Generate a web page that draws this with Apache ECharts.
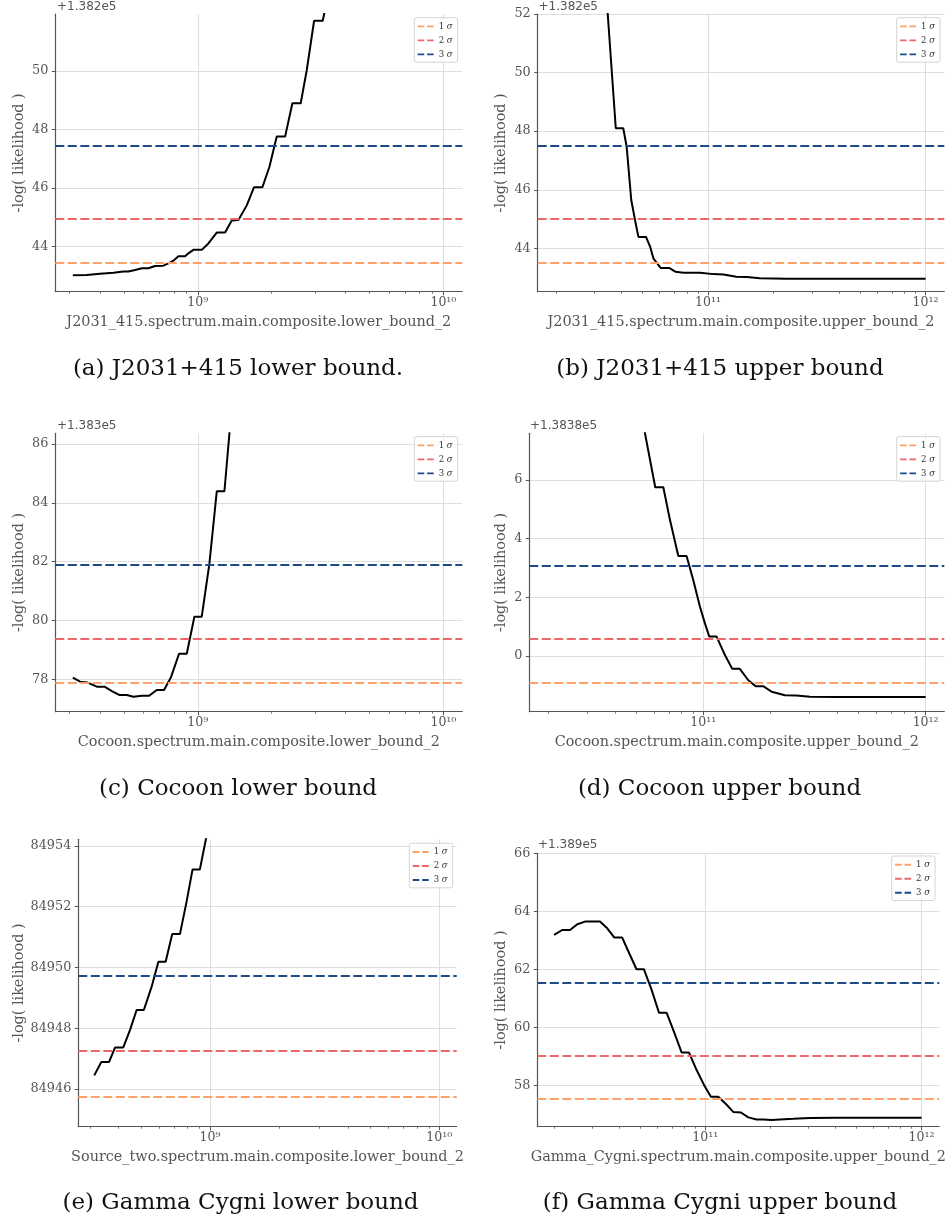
<!DOCTYPE html>
<html>
<head>
<meta charset="utf-8">
<script src="https://cdn.jsdelivr.net/npm/echarts@6/dist/echarts.min.js"></script>
<style>
html,body{margin:0;padding:0;background:#fff;}
#chart{width:948px;height:1226px;}
</style>
</head>
<body>
<div id="chart"></div>
<script>
// ---------------- DATA ----------------
// (a) J2031+415 lower bound
const aX = [3.10e8, 3.53e8, 4.00e8, 4.54e8, 4.98e8, 5.22e8, 5.56e8, 5.92e8, 6.30e8, 6.70e8, 7.24e8, 7.60e8, 7.96e8, 8.34e8, 8.88e8, 9.16e8, 9.60e8, 1.038e9, 1.105e9, 1.195e9, 1.292e9, 1.375e9, 1.464e9, 1.583e9, 1.695e9, 1.833e9, 1.958e9, 2.097e9, 2.268e9, 2.428e9, 2.625e9, 2.778e9, 2.976e9, 3.228e9, 3.46e9];
const aY = [43.02, 43.03, 43.07, 43.11, 43.15, 43.15, 43.20, 43.26, 43.26, 43.34, 43.35, 43.43, 43.52, 43.67, 43.67, 43.77, 43.89, 43.89, 44.11, 44.48, 44.48, 44.89, 44.91, 45.41, 46.03, 46.03, 46.73, 47.76, 47.76, 48.90, 48.90, 50.03, 51.72, 51.72, 52.97];
const aSigma = [43.44, 44.94, 47.44];
const aYTicks = [44, 46, 48, 50];
const aOffset = '+1.382e5';
const aXName = 'J2031_415.spectrum.main.composite.lower_bound_2';
const aCaption = '(a) J2031+415 lower bound.';

// (b) J2031+415 upper bound
const bX = [3.2e10, 3.77e10, 4.08e10, 4.23e10, 4.44e10, 4.62e10, 4.79e10, 5.19e10, 5.42e10, 5.61e10, 6.06e10, 6.63e10, 7.10e10, 7.71e10, 9.19e10, 1.06e11, 1.18e11, 1.35e11, 1.51e11, 1.73e11, 2.30e11, 1e12];
const bY = [55.6, 48.10, 48.10, 47.47, 45.65, 44.97, 44.39, 44.39, 44.06, 43.66, 43.33, 43.33, 43.20, 43.17, 43.17, 43.12, 43.11, 43.03, 43.02, 42.98, 42.96, 42.96];
const bSigma = [43.50, 45.00, 47.50];
const bYTicks = [44, 46, 48, 50, 52];
const bOffset = '+1.382e5';
const bXName = 'J2031_415.spectrum.main.composite.upper_bound_2';
const bCaption = '(b) J2031+415 upper bound';

// (c) Cocoon lower bound
const cX = [3.10e8, 3.32e8, 3.56e8, 3.88e8, 4.17e8, 4.47e8, 4.79e8, 5.14e8, 5.47e8, 5.92e8, 6.34e8, 6.81e8, 7.29e8, 7.77e8, 8.39e8, 9.02e8, 9.69e8, 1.038e9, 1.115e9, 1.195e9, 1.284e9, 1.38e9];
const cY = [78.06, 77.92, 77.89, 77.75, 77.75, 77.60, 77.47, 77.47, 77.41, 77.44, 77.44, 77.64, 77.64, 78.06, 78.87, 78.87, 80.13, 80.13, 81.92, 84.39, 84.39, 87.42];
const cSigma = [77.89, 79.37, 81.88];
const cYTicks = [78, 80, 82, 84, 86];
const cOffset = '+1.383e5';
const cXName = 'Cocoon.spectrum.main.composite.lower_bound_2';
const cCaption = '(c) Cocoon lower bound';

// (d) Cocoon upper bound
const dX = [5.07e10, 6.08e10, 6.61e10, 7.08e10, 7.72e10, 8.41e10, 9.01e10, 9.66e10, 1.017e11, 1.064e11, 1.148e11, 1.251e11, 1.35e11, 1.46e11, 1.59e11, 1.72e11, 1.86e11, 2.03e11, 2.33e11, 2.63e11, 3.02e11, 3.98e11, 1e12];
const dY = [8.89, 5.75, 5.75, 4.64, 3.41, 3.41, 2.59, 1.68, 1.11, 0.66, 0.66, 0.03, -0.44, -0.44, -0.82, -1.03, -1.03, -1.22, -1.34, -1.35, -1.39, -1.40, -1.40];
const dSigma = [-0.91, 0.58, 3.09];
const dYTicks = [0, 2, 4, 6];
const dOffset = '+1.3838e5';
const dXName = 'Cocoon.spectrum.main.composite.upper_bound_2';
const dCaption = '(d) Cocoon upper bound';

// (e) Gamma Cygni lower bound
const eX = [3.13e8, 3.36e8, 3.63e8, 3.86e8, 4.19e8, 4.48e8, 4.79e8, 5.15e8, 5.57e8, 5.96e8, 6.41e8, 6.85e8, 7.40e8, 7.91e8, 8.40e8, 9.04e8, 9.73e8, 1.05e9];
const eY = [84946.45, 84946.89, 84946.89, 84947.37, 84947.37, 84947.94, 84948.60, 84948.60, 84949.37, 84950.19, 84950.19, 84951.10, 84951.10, 84952.17, 84953.23, 84953.23, 84954.44, 84955.74];
const eSigma = [84945.74, 84947.25, 84949.74];
const eYTicks = [84946, 84948, 84950, 84952, 84954];
const eOffset = '';
const eXName = 'Source_two.spectrum.main.composite.lower_bound_2';
const eCaption = '(e) Gamma Cygni lower bound';

// (f) Gamma Cygni upper bound
const fX = [2.00e10, 2.18e10, 2.37e10, 2.56e10, 2.78e10, 3.26e10, 3.50e10, 3.80e10, 4.13e10, 4.45e10, 4.81e10, 5.20e10, 5.65e10, 6.11e10, 6.63e10, 7.16e10, 7.78e10, 8.41e10, 9.12e10, 9.96e10, 1.062e11, 1.148e11, 1.246e11, 1.347e11, 1.462e11, 1.581e11, 1.726e11, 1.853e11, 2.027e11, 2.215e11, 2.55e11, 3.05e11, 4.04e11, 1e12];
const fY = [63.19, 63.36, 63.36, 63.56, 63.65, 63.65, 63.44, 63.10, 63.10, 62.56, 62.01, 62.01, 61.30, 60.51, 60.51, 59.86, 59.14, 59.14, 58.54, 57.97, 57.62, 57.62, 57.37, 57.10, 57.08, 56.91, 56.84, 56.84, 56.82, 56.84, 56.86, 56.89, 56.90, 56.90];
const fSigma = [57.55, 59.04, 61.55];
const fYTicks = [58, 60, 62, 64, 66];
const fOffset = '+1.389e5';
const fXName = 'Gamma_Cygni.spectrum.main.composite.upper_bound_2';
const fCaption = '(f) Gamma Cygni upper bound';

const lowerXTicks = [1e9, 1e10];
const upperXTicks = [1e11, 1e12];
const sigmaNames = ['1 σ', '2 σ', '3 σ'];
const yName = '-log( likelihood )';

// ---------------- LAYOUT / STYLE ----------------
const SIGMA_COLORS = ['#fda26b', '#ee6767', '#1c4b88'];
const SERIF = 'DejaVu Serif';
const TXT = '#555';
const SPINE = '#555';
const GRIDC = '#dedede';

const panels = [
  {x: aX, y: aY, sig: aSigma, yT: aYTicks, xT: lowerXTicks, off: aOffset, xName: aXName, cap: aCaption},
  {x: bX, y: bY, sig: bSigma, yT: bYTicks, xT: upperXTicks, off: bOffset, xName: bXName, cap: bCaption},
  {x: cX, y: cY, sig: cSigma, yT: cYTicks, xT: lowerXTicks, off: cOffset, xName: cXName, cap: cCaption},
  {x: dX, y: dY, sig: dSigma, yT: dYTicks, xT: upperXTicks, off: dOffset, xName: dXName, cap: dCaption},
  {x: eX, y: eY, sig: eSigma, yT: eYTicks, xT: lowerXTicks, off: eOffset, xName: eXName, cap: eCaption},
  {x: fX, y: fY, sig: fSigma, yT: fYTicks, xT: upperXTicks, off: fOffset, xName: fXName, cap: fCaption}
];

const LAYOUT = [
  {grid: [55.3, 14, 407, 277.7],   xLog: [8.420, 10.077],  y: [42.46, 51.95],  legend: [414.3, 17.7], off: [57, 7],      cap: [238, 369],   yNameX: 19},
  {grid: [537.7, 14, 406.6, 277.7], xLog: [10.2175, 12.086], y: [42.52, 52],    legend: [896.7, 17.7], off: [538.5, 7],   cap: [720, 369],   yNameX: 501.7},
  {grid: [55.3, 433.3, 407, 278.4], xLog: [8.420, 10.077],  y: [76.90, 86.36],  legend: [414.3, 436.7], off: [57, 425.7],  cap: [238, 789],   yNameX: 19},
  {grid: [529.3, 433.3, 415, 278.4], xLog: [10.2174, 12.084], y: [-1.90, 7.59], legend: [896.7, 436.7], off: [530, 425.7], cap: [719.5, 789], yNameX: 501.7},
  {grid: [78.3, 839.3, 378.4, 287.4], xLog: [8.426, 10.076], y: [84944.76, 84954.22], legend: [409.3, 843.3], off: [80, 832], cap: [240.5, 1203], yNameX: 19.3},
  {grid: [537.3, 853.3, 402, 273.4], xLog: [10.2234, 12.082], y: [56.59, 66],   legend: [891.7, 856], off: [538, 845],   cap: [720, 1203],  yNameX: 501.7}
];

const SUP = {'0':'⁰','1':'¹','2':'²','3':'³','4':'⁴','5':'⁵','6':'⁶','7':'⁷','8':'⁸','9':'⁹','-':'⁻'};
function powLabel(v) {
  const e = Math.log10(v);
  const r = Math.round(e);
  if (Math.abs(e - r) > 1e-6) return '';
  return '10' + String(r).split('').map(c => SUP[c]).join('');
}
function minorValues(lo, hi) {
  const out = [];
  for (let e = Math.floor(lo); e <= Math.ceil(hi); e++) {
    for (let m = 2; m <= 9; m++) {
      const v = m * Math.pow(10, e);
      const l = Math.log10(v);
      if (l >= lo && l <= hi) out.push(v);
    }
  }
  return out;
}
const DASH_ICON = 'path://M0,0h7v2h-7zM10,0h7v2h-7z';

const option = {
  animation: false,
  backgroundColor: '#fff',
  grid: [], xAxis: [], yAxis: [], series: [], legend: [], graphic: []
};

panels.forEach((p, i) => {
  const L = LAYOUT[i];
  const xmin = Math.pow(10, L.xLog[0]);
  const xmax = Math.pow(10, L.xLog[1]);
  option.grid.push({left: L.grid[0], top: L.grid[1], width: L.grid[2], height: L.grid[3], containLabel: false, outerBoundsMode: 'none'});

  // main x axis
  option.xAxis.push({
    type: 'log', logBase: 10, gridIndex: i, min: xmin, max: xmax, position: 'bottom',
    name: p.xName, nameLocation: 'middle', nameGap: 24,
    nameTextStyle: {fontFamily: SERIF, fontSize: 14.4, color: TXT},
    axisLine: {show: true, onZero: false, lineStyle: {color: SPINE, width: 1.2}},
    axisTick: {show: true, inside: false, length: 3.5, lineStyle: {color: SPINE, width: 1}, customValues: p.xT},
    axisLabel: {show: true, customValues: p.xT, margin: 5, fontFamily: SERIF, fontSize: 12.5, color: TXT,
      formatter: v => powLabel(v)},
    splitLine: {show: true, lineStyle: {color: GRIDC, width: 1}},
    minorTick: {show: false}, minorSplitLine: {show: false}
  });
  // overlay x axis carrying the log minor ticks
  option.xAxis.push({
    type: 'log', logBase: 10, gridIndex: i, min: xmin, max: xmax, position: 'bottom', silent: true,
    axisLine: {show: false, onZero: false}, axisLabel: {show: false}, splitLine: {show: false},
    axisTick: {show: true, inside: false, length: 2, lineStyle: {color: SPINE, width: 0.8}, customValues: minorValues(L.xLog[0], L.xLog[1])}
  });

  const yTickSet = p.yT;
  const isTick = v => yTickSet.some(t => Math.abs(t - v) < 1e-6);
  option.yAxis.push({
    type: 'value', gridIndex: i, min: L.y[0], max: L.y[1], position: 'left',
    name: yName, nameLocation: 'middle', nameRotate: 90, nameGap: L.grid[0] - L.yNameX - 7,
    nameTextStyle: {fontFamily: SERIF, fontSize: 14.4, color: TXT},
    axisLine: {show: true, onZero: false, lineStyle: {color: SPINE, width: 1.2}},
    axisTick: {show: true, inside: false, length: 3.5, lineStyle: {color: SPINE, width: 1}, customValues: yTickSet},
    axisLabel: {show: true, customValues: yTickSet, margin: 7, fontFamily: SERIF, fontSize: 12.8, color: TXT,
      formatter: v => isTick(v) ? String(Math.round(v * 1000) / 1000) : ''},
    splitLine: {show: true, lineStyle: {color: GRIDC, width: 1}}
  });

  // likelihood profile curve
  option.series.push({
    type: 'line', xAxisIndex: 2 * i, yAxisIndex: i,
    data: p.x.map((x, k) => [x, p.y[k]]),
    showSymbol: false, symbol: 'none', clip: true, silent: true, z: 3,
    lineStyle: {color: '#000', width: 2}
  });
  // sigma levels
  p.sig.forEach((lvl, s) => {
    option.series.push({
      type: 'line', name: sigmaNames[s], xAxisIndex: 2 * i, yAxisIndex: i,
      data: [], color: SIGMA_COLORS[s], symbol: 'none', silent: true, z: 4,
      lineStyle: {color: SIGMA_COLORS[s], width: 2, type: [9, 3.5]},
      markLine: {
        silent: true, symbol: ['none', 'none'], animation: false,
        label: {show: false},
        lineStyle: {color: SIGMA_COLORS[s], width: 2, type: [9, 3.5]},
        emphasis: {disabled: true},
        data: [{yAxis: lvl}]
      }
    });
  });

  option.legend.push({
    left: L.legend[0], top: L.legend[1], orient: 'vertical',
    data: sigmaNames.map(n => ({name: n, icon: DASH_ICON})),
    itemWidth: 16, itemHeight: 2.2, itemGap: 5,
    padding: [4.2, 5, 3.3, 3.4],
    borderColor: '#d4d4d4', borderWidth: 1, borderRadius: 2,
    backgroundColor: 'rgba(255,255,255,0.8)',
    selectedMode: false,
    itemStyle: {borderWidth: 0},
    textStyle: {fontSize: 8.5, fontFamily: SERIF, color: '#333',
      rich: {d: {fontSize: 8.5, fontFamily: SERIF, color: '#333'}, s: {fontSize: 8.5, fontFamily: SERIF, fontStyle: 'italic', color: '#333'}}},
    formatter: n => '{d|' + n.split(' ')[0] + '} {s|σ}'
  });

  if (p.off) {
    option.graphic.push({type: 'text', x: L.off[0], y: L.off[1], silent: true,
      style: {text: p.off, fontFamily: 'DejaVu Sans', fontSize: 12, fill: TXT, align: 'left', verticalAlign: 'middle'}});
  }
  option.graphic.push({type: 'text', x: L.cap[0], y: L.cap[1], silent: true,
    style: {text: p.cap, fontFamily: SERIF, fontSize: 23, fill: '#111', align: 'center', verticalAlign: 'middle'}});
});

const chart = echarts.init(document.getElementById('chart'), null, {renderer: 'canvas'});
chart.setOption(option);
</script>
</body>
</html>
